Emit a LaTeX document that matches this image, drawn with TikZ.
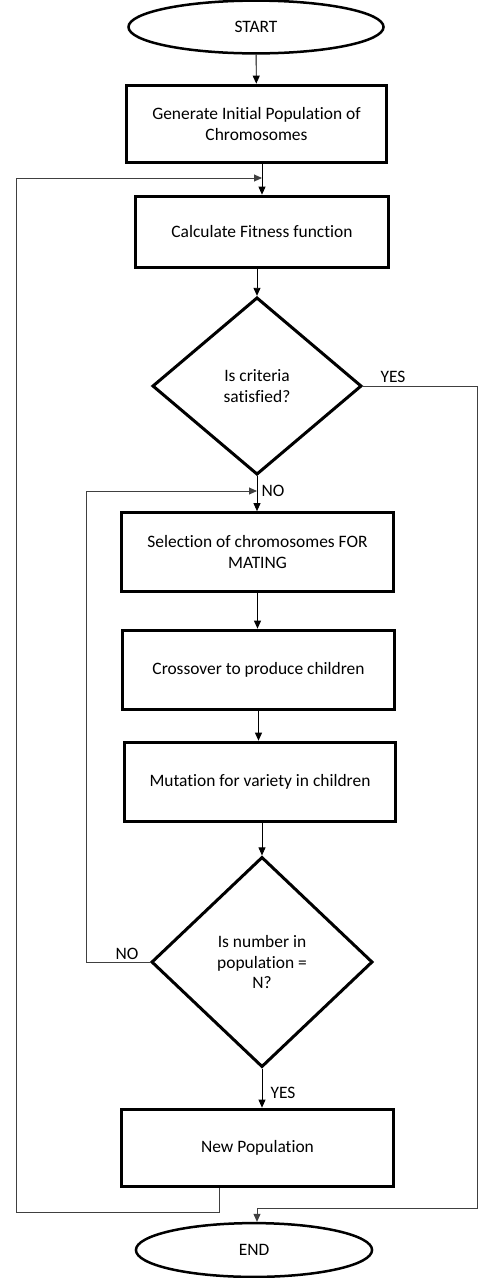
\documentclass[tikz,border=0pt]{standalone}
\usepackage{fontspec}
\setmainfont{Carlito}[Ligatures=CommonOff]
\usetikzlibrary{shapes.geometric,arrows.meta}

\begin{document}
\begin{tikzpicture}[x=1bp,y=-1bp,
   every node/.style={font=\fontsize{17.5}{21}\selectfont},
   term/.style={draw,ellipse,line width=2.5bp,inner sep=0pt},
   proc/.style={draw,rectangle,line width=3bp,inner sep=0pt,align=center},
   test/.style={draw,diamond,line width=3bp,inner sep=0pt,align=center},
   flow/.style={-{Triangle[length=8bp,width=7bp]},line width=0.9bp},
   back/.style={line width=0.9bp,black!75}]
   \useasboundingbox (0,0) rectangle (480,1278);
   % main column
   \node[term,minimum width=256,minimum height=53] (start) at (256,27) {START};
   \node[proc,minimum width=261,minimum height=78] (gen) at (256.5,124) {Generate Initial Population of\\Chromosomes};
   \node[proc,minimum width=254,minimum height=72] (calc) at (262,232) {Calculate Fitness function};
   \node[test,minimum width=210,minimum height=178] (crit) at (257,386) {Is criteria\\satisfied?};
   \node[proc,minimum width=273,minimum height=79] (sel) at (257.5,552) {Selection of chromosomes FOR\\MATING};
   \node[proc,minimum width=273,minimum height=80] (cross) at (258.5,670) {Crossover to produce children};
   \node[proc,minimum width=272,minimum height=80] (mut) at (260,782) {Mutation for variety in children};
   \node[test,minimum width=222,minimum height=211] (num) at (262,962) {Is number in\\population =\\N?};
   \node[proc,minimum width=273,minimum height=78] (newpop) at (257.5,1148) {New Population};
   \node[term,minimum width=237,minimum height=54] (end) at (254,1250) {END};
   % loop corners
   \coordinate (backL) at (16,1212);
   \coordinate (joinA) at (262,178);
   \coordinate (backN) at (86,491);
   \coordinate (joinB) at (257,491);
   \coordinate (exitR) at (477,1208);
   \draw[flow] (start) -- (gen);
   \draw[flow] (calc.north |- gen.south) -- (calc.north);
   \draw[flow] (calc.south -| crit.north) -- (crit.north);
   \draw[flow] (crit.south) -- (sel.north -| crit.south);
   \draw[flow] (sel.south) -- (cross.north -| sel.south);
   \draw[flow] (cross.south) -- (mut.north -| cross.south);
   \draw[flow] (mut.south -| num.north) -- (num.north);
   \draw[flow] (num.south) -- (newpop.north -| num.south);
   % back loops
   \draw[back,flow] ([xshift=-38.5bp]newpop.south) |- (backL) |- (joinA);
   \draw[back,flow] (num.west) -| (backN) -- (joinB);
   \draw[back,flow] (crit.east) -| (exitR) -| (end.north -| joinB);
   % labels
   \node (yesA) at (393,377) {YES};
   \node (noA) at (273,491) {NO};
   \node (noB) at (127,954) {NO};
   \node (yesB) at (283,1093) {YES};
\end{tikzpicture}
\end{document}
